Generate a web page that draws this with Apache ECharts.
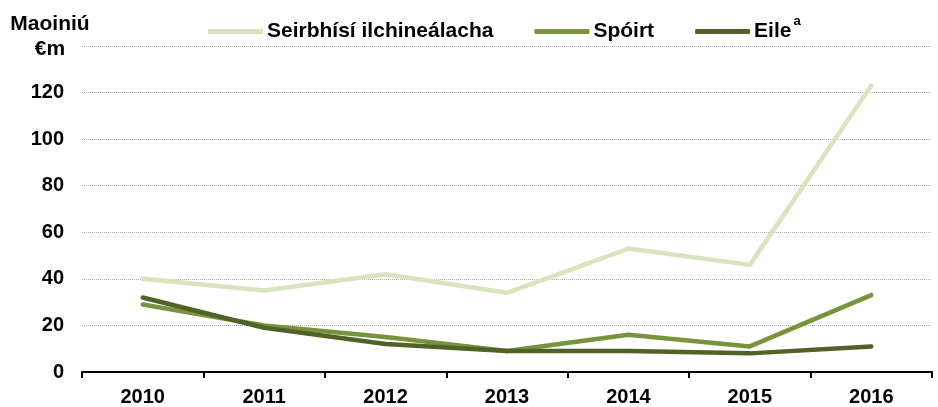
<!DOCTYPE html>
<html><head><meta charset="utf-8">
<script src="https://cdn.jsdelivr.net/npm/echarts@6/dist/echarts.min.js"></script>
<style>html,body{margin:0;padding:0;background:#fff}#c{width:938px;height:407px}</style>
</head><body><div id="c"></div>
<script>
const years = ['2010','2011','2012','2013','2014','2015','2016'];
const seirbhisi = [40, 35, 42, 34, 53, 46, 123];
const spoirt = [29, 20, 15, 9, 16, 11, 33];
const eile = [32, 19, 12, 9, 9, 8, 11];
const names = ['Seirbhísí ilchineálacha', 'Spóirt', 'Eile'];
const colors = ['#d7e4bd', '#77933c', '#4f6228'];
const font = '"Liberation Sans", Arial, sans-serif';
const fs = 20;
const lfs = 21;
const chart = echarts.init(document.getElementById('c'));
chart.setOption({
  animation: false,
  textStyle: {fontFamily: font},
  grid: {left: 82, right: 6, top: 46, bottom: 35},
  graphic: [{type: 'text', x: 50, y: 12, style: {text: 'Maoiniú\n€m', textAlign: 'center', font: 'bold ' + lfs + 'px ' + font, fill: '#000', lineHeight: 25}}],
  legend: {
    top: 10, left: 203, itemGap: 41, itemWidth: 55, itemHeight: 5, icon: 'roundRect',
    data: names,
    formatter: function(n){ return n === 'Eile' ? '{t|Eile}{s|a}' : '{t|' + n + '}'; },
    textStyle: {fontFamily: font, fontWeight: 'bold', fontSize: lfs, color: '#000', padding: [0,0,0,-1],
      rich: {t: {fontFamily: font, fontWeight: 'bold', fontSize: lfs, color: '#000'},
             s: {fontFamily: font, fontWeight: 'bold', fontSize: 13, color: '#000', verticalAlign: 'top', padding: [0,0,20,2]}}}
  },
  xAxis: {
    type: 'category', data: years, boundaryGap: true,
    axisLine: {lineStyle: {color: '#000', width: 2}},
    axisTick: {show: true, length: 6, lineStyle: {color: '#000', width: 2}},
    axisLabel: {color: '#000', fontWeight: 'bold', fontSize: fs, fontFamily: font, margin: 15}
  },
  yAxis: {
    type: 'value', min: 0, max: 140, interval: 20,
    axisLine: {show: false}, axisTick: {show: false},
    axisLabel: {color: '#000', fontWeight: 'bold', fontSize: fs, fontFamily: font, margin: 18, showMaxLabel: false},
    splitLine: {lineStyle: {color: '#b0b0b0', type: [1, 1], width: 1}}
  },
  series: [
    {name: names[0], type: 'line', data: seirbhisi, symbol: 'none', lineStyle: {width: 4.5, color: colors[0], cap: 'round'}, itemStyle: {color: colors[0]}},
    {name: names[1], type: 'line', data: spoirt, symbol: 'none', lineStyle: {width: 4.5, color: colors[1], cap: 'round'}, itemStyle: {color: colors[1]}},
    {name: names[2], type: 'line', data: eile, symbol: 'none', lineStyle: {width: 4.5, color: colors[2], cap: 'round'}, itemStyle: {color: colors[2]}}
  ]
});
</script></body></html>
